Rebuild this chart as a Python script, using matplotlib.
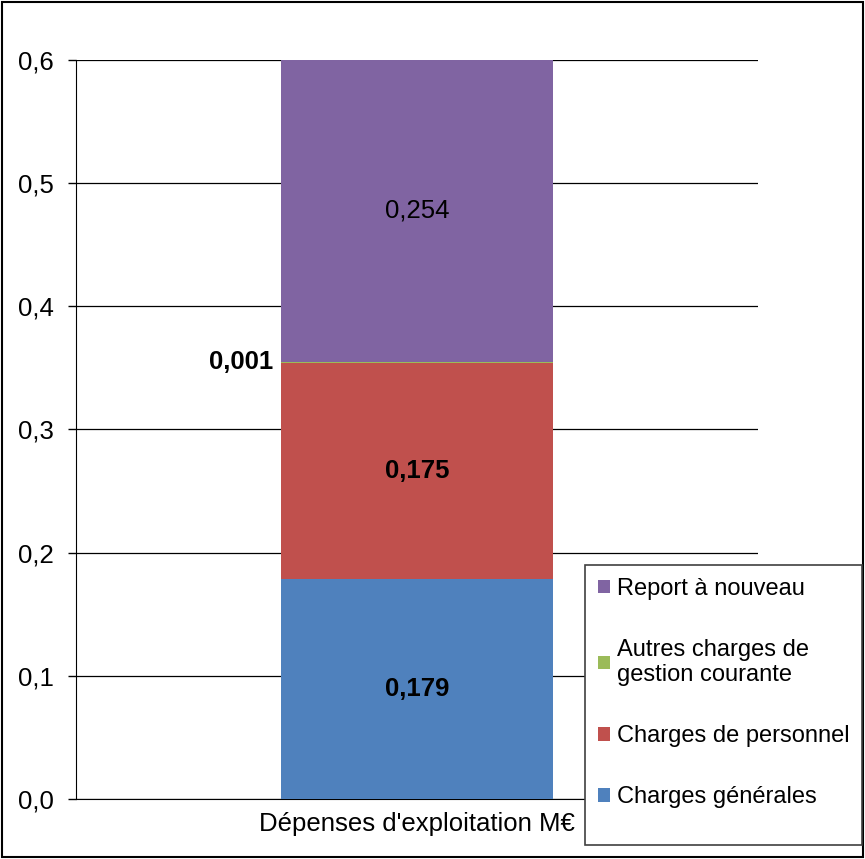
import matplotlib
matplotlib.use("Agg")
import matplotlib.pyplot as plt
from matplotlib.patches import Patch, Rectangle

plt.rcParams['font.family'] = ['Liberation Sans', 'DejaVu Sans']

# data (bottom to top)
category = "Dépenses d'exploitation M€"
series = ["Charges générales", "Charges de personnel",
          "Autres charges de\ngestion courante", "Report à nouveau"]
values = [0.179, 0.175, 0.001, 0.254]
colors = ["#4F81BD", "#C0504D", "#9BBB59", "#8064A2"]
bold = [True, True, True, False]
yticks = [0.0, 0.1, 0.2, 0.3, 0.4, 0.5, 0.6]

fig = plt.figure(figsize=(8.65, 8.59), dpi=100)
ax = fig.add_axes([0.0879, 0.0698, 0.788, 0.8604])

bottom = 0.0
for name, v, c, b in zip(series, values, colors, bold):
    ax.bar(0, v, bottom=bottom, width=0.4, color=c, label=name, zorder=3)
    top = min(bottom + v, 0.6)
    w = 'bold' if b else 'normal'
    label = f"{v:.3f}".replace(".", ",")
    if v < 0.01:
        ax.text(-0.211, bottom + v / 2, label, ha='right',
                va='center', fontsize=18.5, fontweight=w, zorder=4)
    else:
        ax.text(0, (bottom + top) / 2, label,
                ha='center', va='center', fontsize=18.5, fontweight=w, zorder=4)
    bottom += v

ax.set_xlim(-0.5, 0.5)
ax.set_ylim(0, 0.6)
ax.set_yticks(yticks)
ax.set_yticklabels([f"{t:.1f}".replace(".", ",") for t in yticks], fontsize=18.5)
ax.set_xticks([])
ax.set_xlabel(category, fontsize=18.5, labelpad=9)
ax.grid(axis='y', color='black', linewidth=0.9, zorder=0)
ax.spines['top'].set_visible(False)
ax.spines['right'].set_visible(False)
ax.spines['left'].set_color('black')
ax.spines['bottom'].set_color('black')
ax.tick_params(axis='y', length=6, width=1, pad=10)

# legend box
fig.patches.append(Rectangle((0.676, 0.016), 0.3205, 0.326, transform=fig.transFigure,
                             facecolor='white', edgecolor='#404040', linewidth=1.2,
                             zorder=5))
handles = [Patch(facecolor=c, label=n) for n, c in zip(series, colors)][::-1]
leg = fig.legend(handles=handles, loc='upper left', bbox_to_anchor=(0.678, 0.341),
                 frameon=False, fontsize=17, handlelength=0.5, handleheight=0.5,
                 handletextpad=0.3, labelspacing=1.65, borderpad=0)
leg.set_zorder(6)

fig.patches.append(Rectangle((0.002, 0.002), 0.996, 0.996, transform=fig.transFigure,
                             facecolor='none', edgecolor='black', linewidth=1.5))

fig.savefig("out.png", dpi=100)
